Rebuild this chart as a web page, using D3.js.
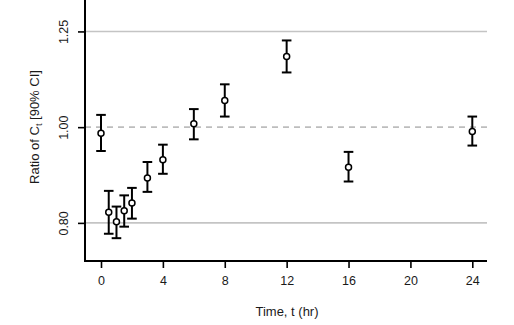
<!DOCTYPE html>
<html>
<head>
<meta charset="utf-8">
<script src="https://cdn.jsdelivr.net/npm/d3@7"></script>
<style>
  html, body { margin: 0; padding: 0; background: #fff; }
  svg { display: block; font-family: "Liberation Sans", Arial, sans-serif; }
</style>
</head>
<body>
<svg id="chart" width="514" height="325"></svg>
<script>
// Sampling times (hr) and geometric mean ratios with 90% CI bounds
const times = [0, 0.5, 1, 1.5, 2, 3, 4, 6, 8, 12, 16, 24];
const ratio = [0.986, 0.820, 0.802, 0.823, 0.838, 0.888, 0.927, 1.008, 1.064, 1.179, 0.911, 0.990];
const lower = [0.946, 0.780, 0.772, 0.793, 0.808, 0.860, 0.897, 0.972, 1.025, 1.136, 0.881, 0.958];
const upper = [1.029, 0.862, 0.831, 0.853, 0.868, 0.922, 0.960, 1.043, 1.105, 1.224, 0.944, 1.025];

const xTicks = [0, 4, 8, 12, 16, 20, 24];
const yTicks = [0.80, 1.00, 1.25];
const solidRefs = [0.80, 1.25];
const dashedRef = 1.00;

const svg = d3.select("#chart");
const plotL = 85, plotR = 487, plotT = 0, plotB = 261;

const x = d3.scaleLinear().domain([0, 24]).range([101, 472.3]);
const y = d3.scaleLog().domain([0.732, 1.345]).range([plotB, plotT]);

// Reference limits
svg.selectAll("line.ref")
  .data(solidRefs)
  .join("line")
  .attr("class", "ref")
  .attr("x1", plotL).attr("x2", plotR)
  .attr("y1", d => y(d)).attr("y2", d => y(d))
  .attr("stroke", "#c4c4c4").attr("stroke-width", 1.6);

svg.append("line")
  .attr("x1", plotL).attr("x2", plotR)
  .attr("y1", y(dashedRef)).attr("y2", y(dashedRef))
  .attr("stroke", "#bdbdbd").attr("stroke-width", 1.6)
  .attr("stroke-dasharray", "6,5");

// Axes
const xAxis = svg.append("g")
  .attr("transform", `translate(0,${plotB})`)
  .call(d3.axisBottom(x).tickValues(xTicks).tickSize(7).tickPadding(8).tickFormat(d3.format("d")));
xAxis.select(".domain").remove();
xAxis.selectAll(".tick line").attr("stroke", "#000").attr("stroke-width", 1.6);
xAxis.selectAll(".tick text").attr("font-size", 12.5).attr("fill", "#1a1a1a")
  .attr("font-family", "Liberation Sans, Arial, sans-serif");

const yAxis = svg.append("g")
  .attr("transform", `translate(${plotL},0)`)
  .call(d3.axisLeft(y).tickValues(yTicks).tickSize(7).tickPadding(0).tickFormat(d3.format(".2f")));
yAxis.select(".domain").remove();
yAxis.selectAll(".tick line").attr("stroke", "#000").attr("stroke-width", 1.6);
yAxis.selectAll(".tick text")
  .attr("font-size", 12.5).attr("fill", "#1a1a1a")
  .attr("font-family", "Liberation Sans, Arial, sans-serif")
  .attr("x", null).attr("dy", null)
  .attr("text-anchor", "middle")
  .attr("transform", "translate(-21,0) rotate(-90)")
  .attr("dominant-baseline", "central");

// Axis frame (left and bottom)
svg.append("path")
  .attr("d", `M${plotL},${plotT}V${plotB}H${plotR}`)
  .attr("fill", "none").attr("stroke", "#000").attr("stroke-width", 2);

// Error bars
const pts = times.map((t, i) => ({ t, r: ratio[i], lo: lower[i], hi: upper[i] }));
const g = svg.append("g").attr("stroke", "#000").attr("fill", "none");
const capW = 4.8;
g.selectAll("line.bar").data(pts).join("line").attr("class", "bar")
  .attr("x1", d => x(d.t)).attr("x2", d => x(d.t))
  .attr("y1", d => y(d.lo)).attr("y2", d => y(d.hi))
  .attr("stroke-width", 2);
g.selectAll("line.capHi").data(pts).join("line").attr("class", "capHi")
  .attr("x1", d => x(d.t) - capW).attr("x2", d => x(d.t) + capW)
  .attr("y1", d => y(d.hi)).attr("y2", d => y(d.hi))
  .attr("stroke-width", 2);
g.selectAll("line.capLo").data(pts).join("line").attr("class", "capLo")
  .attr("x1", d => x(d.t) - capW).attr("x2", d => x(d.t) + capW)
  .attr("y1", d => y(d.lo)).attr("y2", d => y(d.lo))
  .attr("stroke-width", 2);
g.selectAll("circle").data(pts).join("circle")
  .attr("cx", d => x(d.t)).attr("cy", d => y(d.r)).attr("r", 3)
  .attr("fill", "#fff").attr("stroke-width", 1.5);

// Axis titles
svg.append("text")
  .attr("x", 287).attr("y", 316)
  .attr("text-anchor", "middle").attr("font-size", 13).attr("fill", "#1a1a1a")
  .text("Time, t (hr)");

const yt = svg.append("text")
  .attr("transform", "translate(39,127) rotate(-90)")
  .attr("text-anchor", "middle").attr("font-size", 13).attr("fill", "#1a1a1a");
yt.append("tspan").text("Ratio of C");
yt.append("tspan").attr("font-size", 9).attr("dy", 3).text("t");
yt.append("tspan").attr("dy", -3).text(" [90% CI]");
</script>
</body>
</html>
